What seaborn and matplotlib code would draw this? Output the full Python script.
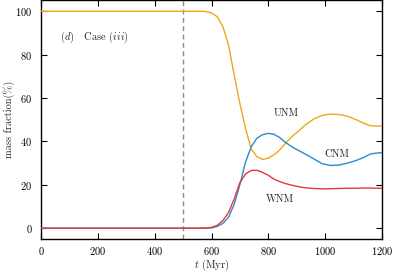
import numpy as np
import pandas as pd
import matplotlib
matplotlib.use("Agg")
import matplotlib.pyplot as plt
from matplotlib.ticker import MultipleLocator
import seaborn as sns

# === Data ===
time_myr = [0, 500, 560, 580, 600, 620, 640, 660, 680, 700, 720, 740, 760, 780,
            800, 820, 840, 860, 880, 900, 930, 960, 990, 1020, 1050, 1080, 1110,
            1140, 1160, 1180, 1200]
unm = [100, 100, 100, 99.9, 99.2, 97.5, 93, 84.5, 70.5, 57.5, 46, 36.5, 33, 31.7,
       32.3, 33.8, 36, 39, 41.8, 44, 47.5, 50.3, 52, 52.6, 52.4, 51.6, 50,
       48.2, 47.2, 47.1, 47.1]
cnm = [0, 0, 0, 0, 0.1, 0.8, 2.2, 5, 11, 20, 30.5, 37.5, 41.5, 43.1,
       43.7, 43.3, 41.8, 39.6, 37.8, 36.3, 34.2, 32, 29.7, 28.9, 29.1, 30, 31.2,
       32.8, 34.2, 34.6, 34.8]
wnm = [0, 0, 0, 0.05, 0.4, 1.3, 3.5, 7.2, 13.5, 21, 25, 26.6, 26.7, 25.7,
       24.4, 22.6, 21.5, 20.6, 19.9, 19.3, 18.6, 18.3, 18.1, 18.2, 18.3, 18.4, 18.4,
       18.5, 18.5, 18.4, 18.4]
phases = ["UNM", "CNM", "WNM"]
colors = {"UNM": "#f2a516", "CNM": "#2a8bcb", "WNM": "#e8373a"}
t_switch = 500

df = pd.DataFrame({"t": time_myr * 3,
                   "frac": unm + cnm + wnm,
                   "phase": np.repeat(phases, len(time_myr))})

# === Style ===
sns.set_style("ticks")
plt.rcParams["font.family"] = ["cmr10"]
plt.rcParams["mathtext.fontset"] = "cm"
plt.rcParams["axes.formatter.use_mathtext"] = True
plt.rcParams["axes.unicode_minus"] = False
fs = 7.5

fig = plt.figure(figsize=(3.96, 2.73), dpi=100)
ax = fig.add_axes([0.1043, 0.1245, 0.8596, 0.874])

ax.axvline(t_switch, color="#8c8c8c", lw=1.0, ls=(0, (3.5, 2.5)), zorder=1)
sns.lineplot(data=df, x="t", y="frac", hue="phase", hue_order=phases,
             palette=colors, lw=1.0, legend=False, ax=ax, zorder=3)

ax.set_xlim(0, 1200)
ax.set_ylim(-5, 105)
ax.xaxis.set_major_locator(MultipleLocator(200))
ax.yaxis.set_major_locator(MultipleLocator(20))
ax.tick_params(direction="in", top=True, right=True, length=4, width=0.8,
               labelsize=fs, colors="black")
ax.tick_params(axis="x", pad=4)
ax.tick_params(axis="y", pad=6.5)
for s in ax.spines.values():
    s.set_linewidth(1.0)
    s.set_color("black")

ax.set_xlabel(r"$t$ (Myr)", fontsize=fs)
ax.set_ylabel("mass fraction(%)", fontsize=fs)
ax.yaxis.set_label_coords(-0.078, 0.5)
ax.xaxis.set_label_coords(0.5, -0.077)

ax.text(66, 88, r"$(d)$   Case $(iii)$", fontsize=fs, va="center", ha="left")
ax.text(865, 53, "UNM", fontsize=fs, ha="center", va="center")
ax.text(1041, 34.2, "CNM", fontsize=fs, ha="center", va="center")
ax.text(841, 13.3, "WNM", fontsize=fs, ha="center", va="center")

fig.savefig("out.png", dpi=100)
